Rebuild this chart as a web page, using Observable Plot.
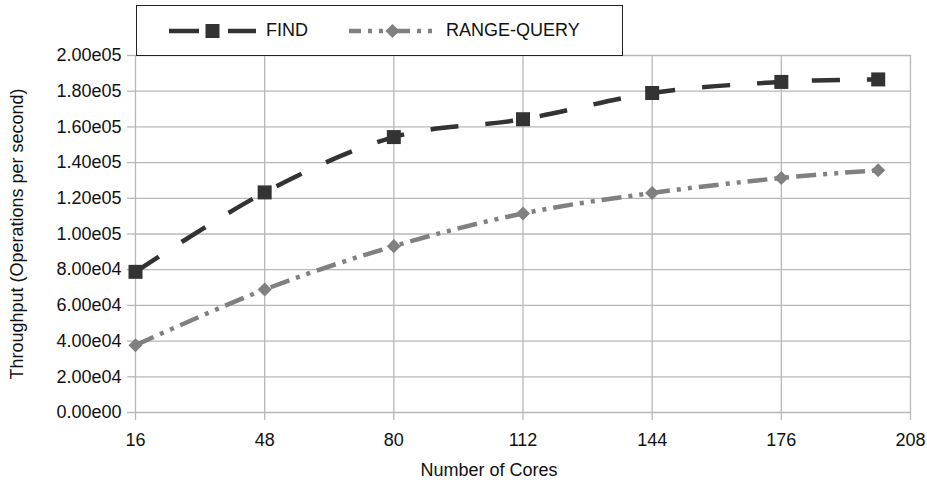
<!DOCTYPE html>
<html>
<head>
<meta charset="utf-8">
<script src="https://cdn.jsdelivr.net/npm/d3@7"></script>
<script src="https://cdn.jsdelivr.net/npm/@observablehq/plot@0.6"></script>
<style>
  html, body { margin: 0; padding: 0; background: #fff; }
  #wrap { position: relative; width: 927px; height: 488px; font-family: "Liberation Sans", Arial, sans-serif; }
  #legend { position: absolute; left: 136px; top: 5px; width: 485px; height: 49px; border: 1px solid #222; background: #fff; box-sizing: content-box; }
  .item { position: absolute; top: 0; height: 49px; display: flex; align-items: center; font-size: 18px; color: #111; }
  .item svg { display: block; margin-right: 10px; }
</style>
</head>
<body>
<div id="wrap"></div>
<script>
// ---- data ----
const cores = [16, 48, 80, 112, 144, 176, 200];
const findValues = [78800, 123300, 154300, 164300, 179000, 185200, 186600];
const rangeQueryValues = [37700, 68900, 93200, 111500, 123000, 131400, 135700];
const seriesNames = ["FIND", "RANGE-QUERY"];
const xTicks = [16, 48, 80, 112, 144, 176, 208];
const yTicks = [0, 20000, 40000, 60000, 80000, 100000, 120000, 140000, 160000, 180000, 200000];
const xTitle = "Number of Cores";
const yTitle = "Throughput (Operations per second)";

const findRows = cores.map((c, i) => ({cores: c, value: findValues[i], series: seriesNames[0]}));
const rangeRows = cores.map((c, i) => ({cores: c, value: rangeQueryValues[i], series: seriesNames[1]}));

const FIND_COLOR = "#333333";
const RANGE_COLOR = "#808080";
const FIND_DASH = "28,27";
const RANGE_DASH = "20,7,4,7,4,7";
const GRID = "#b8b8b8";

function fmtExp(v) {
  if (v === 0) return "0.00e00";
  const e = Math.floor(Math.log10(Math.abs(v)) + 1e-9);
  const m = v / Math.pow(10, e);
  return m.toFixed(2) + "e" + String(e).padStart(2, "0");
}

const chart = Plot.plot({
  width: 927,
  height: 488,
  marginTop: 55,
  marginBottom: 76,
  marginLeft: 135,
  marginRight: 17,
  style: {fontFamily: "'Liberation Sans', Arial, sans-serif", fontSize: "18px", color: "#111", background: "transparent"},
  x: {domain: [16, 208]},
  y: {domain: [0, 200000]},
  marks: [
    Plot.gridX(xTicks, {stroke: GRID, strokeOpacity: 1, strokeWidth: 1.3}),
    Plot.gridY(yTicks, {stroke: GRID, strokeOpacity: 1, strokeWidth: 1.3}),
    Plot.axisX({ticks: xTicks, tickSize: 8, tickPadding: 13, stroke: GRID, strokeWidth: 1.3, fontSize: 18, label: null}),
    Plot.axisY({ticks: yTicks, tickSize: 8, tickPadding: 6, stroke: GRID, strokeWidth: 1.3, fontSize: 18, tickFormat: fmtExp,
      label: yTitle, labelAnchor: "center", labelArrow: "none", labelOffset: 125}),
    Plot.text([xTitle], {frameAnchor: "bottom", dy: 63, dx: -34, fontSize: 18, fill: "#111"}),
    Plot.line(findRows, {x: "cores", y: "value", stroke: FIND_COLOR, strokeWidth: 4.5, strokeDasharray: FIND_DASH, strokeLinecap: "butt", curve: "cardinal"}),
    Plot.line(rangeRows, {x: "cores", y: "value", stroke: RANGE_COLOR, strokeWidth: 4.5, strokeDasharray: RANGE_DASH, strokeLinecap: "butt", curve: "cardinal"}),
    Plot.dot(findRows, {x: "cores", y: "value", symbol: "square", r: 7.9, fill: FIND_COLOR, stroke: "none"}),
    Plot.dot(rangeRows, {x: "cores", y: "value", symbol: "square", rotate: 45, r: 5.6, fill: RANGE_COLOR, stroke: "none"})
  ]
});

const wrap = document.getElementById("wrap");
wrap.appendChild(chart);

// legend
const legend = document.createElement("div");
legend.id = "legend";
function swatch(color, dash, marker) {
  const w = 87, h = 20, cy = 10;
  const mk = marker === "square"
    ? `<rect x="${w/2 - 7}" y="${cy - 7}" width="14" height="14" fill="${color}"/>`
    : `<rect x="${w/2 - 5}" y="${cy - 5}" width="10" height="10" fill="${color}" transform="rotate(45 ${w/2} ${cy})"/>`;
  return `<svg width="${w}" height="${h}"><line x1="0" x2="${w}" y1="${cy}" y2="${cy}" stroke="${color}" stroke-width="4.5" stroke-dasharray="${dash}" stroke-dashoffset="${marker === "square" ? 0 : 8}"/>${mk}</svg>`;
}
legend.innerHTML =
  `<div class="item" style="left:32px">${swatch(FIND_COLOR, "30,29,28", "square")}<span>${seriesNames[0]}</span></div>` +
  `<div class="item" style="left:212px">${swatch(RANGE_COLOR, RANGE_DASH, "diamond")}<span>${seriesNames[1]}</span></div>`;
wrap.appendChild(legend);
chart.style.position = "absolute";
chart.style.left = "0";
chart.style.top = "0";
</script>
</body>
</html>
